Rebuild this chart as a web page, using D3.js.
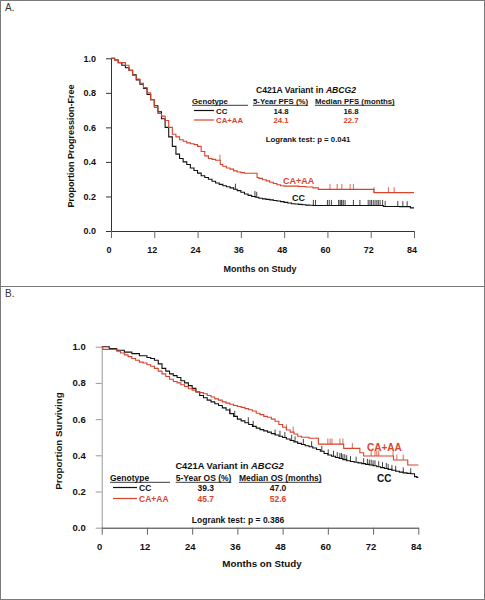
<!DOCTYPE html>
<html><head><meta charset="utf-8">
<script src="https://cdn.jsdelivr.net/npm/d3@7"></script>
<style>
body{margin:0;background:#fff;}
svg{display:block;font-family:"Liberation Sans",Arial,sans-serif;}
</style></head>
<body><svg id="c" width="485" height="600"></svg>
<script>
// ---------- DATA ----------
const monthTicks = [0,12,24,36,48,60,72,84];
const propTicks = [0,0.2,0.4,0.6,0.8,1.0];
const groups = ["CC","CA+AA"];

// Panel A: progression-free survival (Kaplan-Meier steps [month, proportion])
const pfsCC = [[0,1],[1,0.99],[2,0.975],[3,0.96],[4,0.945],[5,0.93],[6,0.905],[7,0.875],[8,0.85],[9,0.825],[10,0.79],[11,0.76],[12,0.725],[13,0.69],[14,0.65],[15,0.6],[16,0.545],[17,0.49],[18,0.445],[19,0.42],[20,0.4],[21,0.385],[22,0.365],[23,0.35],[24,0.335],[25,0.32],[26,0.31],[27,0.3],[28,0.288],[29,0.278],[30,0.27],[31,0.262],[32,0.256],[33,0.25],[34,0.242],[35,0.234],[36,0.224],[37,0.214],[38,0.206],[39,0.2],[40,0.195],[41,0.19],[42,0.186],[43,0.183],[44,0.18],[45,0.177],[46,0.174],[47,0.17],[48,0.166],[49,0.162],[50,0.158],[51,0.156],[52,0.154],[53,0.152],[54,0.15],[55,0.149],[56,0.148],[75.5,0.142],[80,0.141],[83,0.134]];
const pfsVar = [[0,1],[1,0.99],[2,0.975],[4,0.96],[5,0.93],[6,0.9],[7,0.88],[8,0.855],[9,0.83],[10,0.8],[11,0.76],[12,0.715],[13,0.68],[14,0.665],[15,0.64],[16,0.6],[17,0.56],[18,0.545],[19,0.528],[20,0.52],[21,0.51],[22,0.505],[23,0.5],[24,0.49],[25,0.46],[26,0.435],[27,0.42],[28,0.415],[29,0.41],[30.3,0.385],[31,0.375],[32,0.365],[33,0.358],[34,0.348],[35,0.342],[36,0.338],[37,0.334],[40.5,0.31],[41,0.305],[42,0.297],[43,0.29],[44,0.282],[45,0.275],[46,0.268],[47,0.262],[48,0.26],[52,0.258],[54,0.255],[56,0.25],[57.5,0.241],[72.9,0.222]];
const pfsCensorCC = [34.5,39.9,40.4,56.1,56.7,60.0,60.5,61.1,63.1,63.5,63.8,64.0,64.4,64.9,67.2,69.0,71.3,71.8,72.2,72.7,73.2,73.7,74.1,74.6,75.3,76.0,79.5,80.9,82.1];
const pfsCensorVar = [30.2,60.7,62.7,64.0,66.3,67.2,72.9,76.9,78.5];
const pfsTable = {title:"C421A Variant in ", gene:"ABCG2", col1:"5-Year PFS (%)", col2:"Median PFS (months)", fiveYear:["14.8","24.1"], median:["16.8","22.7"], p:"Logrank test: p = 0.041"};

// Panel B: overall survival
const osCC = [[0,1],[2,0.99],[4,0.98],[6,0.97],[8,0.962],[10,0.95],[12,0.94],[13,0.935],[14,0.925],[15,0.905],[16,0.88],[17,0.865],[18,0.85],[19,0.84],[20,0.83],[21,0.812],[22,0.8],[23,0.785],[24,0.77],[25,0.75],[26,0.73],[27,0.718],[28,0.705],[29,0.695],[30,0.685],[31,0.675],[32,0.662],[33,0.65],[34,0.63],[35,0.615],[36,0.6],[37,0.59],[38,0.58],[39,0.57],[40,0.56],[41,0.55],[42,0.542],[43,0.535],[44,0.528],[45,0.52],[46,0.512],[47,0.505],[48,0.498],[49,0.49],[50,0.482],[51,0.474],[52,0.466],[53,0.46],[54,0.453],[55,0.447],[56,0.44],[57,0.432],[58,0.422],[59,0.41],[60,0.402],[61,0.395],[62,0.388],[63,0.382],[64,0.376],[65,0.37],[66,0.366],[67,0.362],[68,0.358],[69,0.354],[70,0.35],[71,0.346],[72,0.342],[73,0.337],[74,0.332],[75,0.327],[76,0.322],[77,0.317],[78,0.312],[79,0.307],[80,0.303],[81,0.3],[82,0.298],[83,0.282],[83.6,0.278]];
const osVar = [[0,1],[0.3,0.985],[4,0.975],[5,0.965],[6,0.955],[7,0.945],[8,0.935],[9,0.925],[10,0.915],[11,0.91],[12,0.9],[13,0.892],[14,0.88],[15,0.865],[16,0.85],[17,0.835],[18,0.82],[19,0.808],[20,0.8],[21,0.79],[22,0.78],[23,0.768],[24,0.76],[25,0.752],[26,0.746],[27,0.74],[28,0.73],[29,0.722],[30,0.712],[31,0.705],[32,0.695],[33,0.688],[34,0.682],[35,0.675],[36,0.67],[37,0.665],[38,0.658],[39,0.652],[40,0.645],[41,0.632],[42,0.625],[43,0.615],[44,0.61],[45,0.6],[46,0.588],[47,0.57],[48,0.555],[49,0.54],[50,0.528],[51,0.518],[52,0.505],[53,0.5],[55,0.494],[57.5,0.462],[64.2,0.438],[68.5,0.414],[69.5,0.396],[77.4,0.374],[81.2,0.346]];
const osCensorCC = [34.0,35.3,38.9,40.2,46.0,47.3,48.6,50.4,51.3,53.5,55.7,58.4,60.1,61.5,62.5,63.2,63.6,64.0,64.5,65.0,66.0,67.5,69.5,70.5,71.0,71.5,72.0,72.5,73.5,74.5,75.5,76.0,77.0,78.0,80.0,82.0];
const osCensorVar = [49.0,50.8,60.0,60.6,61.1,63.2,64.0,66.5,71.5,72.5,73.0,73.5,77.3,78.3,80.0];
const osTable = {title:"C421A Variant in ", gene:"ABCG2", col1:"5-Year OS (%)", col2:"Median OS (months)", fiveYear:["39.3","45.7"], median:["47.0","52.6"], p:"Logrank test: p = 0.386"};

// ---------- DRAW ----------
const RED = "#d8432b", BLACK = "#111";
const svg = d3.select("#c");

// frame
svg.append("rect").attr("x",0.5).attr("y",0.5).attr("width",484).attr("height",599)
  .attr("fill","none").attr("stroke","#7a7a7a");
svg.append("line").attr("x1",0).attr("x2",485).attr("y1",286.5).attr("y2",286.5).attr("stroke","#7a7a7a");
svg.append("text").attr("x",5).attr("y",11).attr("font-size",10).attr("fill","#333").text("A.");
svg.append("text").attr("x",5).attr("y",297).attr("font-size",10).attr("fill","#333").text("B.");

function survAt(data,t){let s=data[0][1];for(const d of data){if(d[0]<=t)s=d[1];}return s;}

function panel(cfg){
  const x = d3.scaleLinear().domain([0,84]).range(cfg.xr);
  const y = d3.scaleLinear().domain([0,1]).range(cfg.yr);
  const g = svg.append("g");
  const ya = g.append("g").attr("transform",`translate(${cfg.xr[0]},0)`)
    .call(d3.axisLeft(y).tickValues(propTicks).tickFormat(d3.format(".1f")).tickSize(cfg.yTick).tickSizeOuter(0).tickPadding(10));
  ya.select(".domain").attr("stroke",cfg.yAxisColor);
  ya.selectAll(".tick line").attr("stroke",cfg.yAxisColor);
  ya.selectAll("text").attr("font-size",cfg.fs.tick).attr("font-weight","bold").attr("fill","#111").attr("font-family","Liberation Sans, Arial");
  const xa = g.append("g").attr("transform",`translate(0,${cfg.yr[0]})`)
    .call(d3.axisBottom(x).tickValues(monthTicks).tickSize(7).tickSizeOuter(0).tickPadding(9));
  xa.select(".domain").attr("stroke","#333");
  xa.selectAll(".tick line").attr("stroke","#666");
  xa.selectAll("text").attr("font-size",cfg.fs.tick).attr("font-weight","bold").attr("fill","#111").attr("dx",-2.5).attr("font-family","Liberation Sans, Arial");

  g.append("text").attr("x",cfg.xTitle[0]).attr("y",cfg.xTitle[1]).attr("text-anchor","middle")
    .attr("font-size",cfg.fs.title).attr("font-weight","bold").attr("fill","#111").text("Months on Study");
  g.append("text").attr("transform",`translate(${cfg.yTitle[0]},${cfg.yTitle[1]}) rotate(-90)`).attr("text-anchor","middle")
    .attr("dy","0.35em").attr("font-size",cfg.fs.title).attr("font-weight","bold").attr("fill","#111").text(cfg.yLabel);

  const line = d3.line().x(d=>x(d[0])).y(d=>y(d[1])).curve(d3.curveStepAfter);
  cfg.series.forEach(s=>{
    const pts = s.data.concat([[84, s.data[s.data.length-1][1]]]);
    g.append("path").datum(pts).attr("d",line).attr("fill","none").attr("stroke",s.color).attr("stroke-width",1.1);
    g.selectAll(null).data(s.censor).enter().append("line")
      .attr("x1",d=>x(d)).attr("x2",d=>x(d))
      .attr("y1",d=>y(survAt(s.data,d))-5.5).attr("y2",d=>y(survAt(s.data,d)))
      .attr("stroke",s.color).attr("stroke-width",0.8);
  });
  // curve labels
  cfg.curveLabels.forEach(c=>{
    g.append("text").attr("x",c.x).attr("y",c.y).attr("font-size",cfg.fs.curve).attr("font-weight","bold")
      .attr("fill",c.color).text(c.text);
  });
  // legend table
  const L = cfg.leg, T = cfg.table, fsL = cfg.fs.leg;
  const tt = g.append("text").attr("x",L.titleX).attr("y",L.titleY).attr("text-anchor","middle")
    .attr("font-size",cfg.fs.legTitle).attr("font-weight","bold").attr("fill","#111");
  tt.append("tspan").text(T.title);
  tt.append("tspan").attr("font-style","italic").text(T.gene);
  const hdr = [["Genotype",L.genX,"start",L.genUl],[T.col1,L.c1X,"start",null],[T.col2,L.c2X,"start",null]];
  hdr.forEach(h=>{
    const t = g.append("text").attr("x",h[1]).attr("y",L.hdrY).attr("text-anchor",h[2])
      .attr("font-size",fsL).attr("font-weight","bold").attr("fill","#111").text(h[0]);
    const w = h[3] ? h[3] : t.node().getComputedTextLength();
    g.append("line").attr("x1",h[1]).attr("x2",h[1]+w).attr("y1",L.hdrY+1.8).attr("y2",L.hdrY+1.8)
      .attr("stroke","#222").attr("stroke-width",0.9);
  });
  groups.forEach((gr,i)=>{
    const col = i===0?BLACK:RED;
    const yy = L.rowY[i];
    g.append("line").attr("x1",L.swX[0]).attr("x2",L.swX[1]).attr("y1",yy-3).attr("y2",yy-3).attr("stroke",col).attr("stroke-width",1.2);
    g.append("text").attr("x",L.swX[1]+2).attr("y",yy).attr("font-size",fsL).attr("font-weight","bold").attr("fill",col).text(gr);
    g.append("text").attr("x",L.v1X).attr("y",yy).attr("text-anchor","middle").attr("font-size",fsL).attr("font-weight","bold").attr("fill",col).text(T.fiveYear[i]);
    g.append("text").attr("x",L.v2X).attr("y",yy).attr("text-anchor","middle").attr("font-size",fsL).attr("font-weight","bold").attr("fill",col).text(T.median[i]);
  });
  g.append("text").attr("x",L.pX).attr("y",L.pY).attr("text-anchor","middle").attr("font-size",fsL).attr("font-weight","bold").attr("fill","#111").text(T.p);
}

panel({
  xr:[111,414], yr:[231,58.3], yTick:5, yAxisColor:"#333",
  fs:{tick:9,title:9,curve:9,leg:7.8,legTitle:8.6},
  xTitle:[260,272], yTitle:[71,146], yLabel:"Proportion Progression-Free",
  series:[{data:pfsCC,censor:pfsCensorCC,color:BLACK},{data:pfsVar,censor:pfsCensorVar,color:RED}],
  curveLabels:[{x:283,y:183.5,text:"CA+AA",color:RED},{x:292,y:200.5,text:"CC",color:BLACK}],
  table:pfsTable,
  leg:{titleX:306,titleY:93,genX:192,genUl:56,hdrY:103.5,c1X:253,c2X:315,rowY:[113.5,123],swX:[194,214],v1X:281,v2X:351,pX:308,pY:142}
});

panel({
  xr:[101.7,418.3], yr:[527.7,346.7], yTick:6, yAxisColor:"#999",
  fs:{tick:9.5,title:9.8,curve:10,leg:8.5,legTitle:9.3},
  xTitle:[262,566.5], yTitle:[59,441], yLabel:"Proportion Surviving",
  series:[{data:osCC,censor:osCensorCC,color:BLACK},{data:osVar,censor:osCensorVar,color:RED}],
  curveLabels:[{x:367,y:451,text:"CA+AA",color:RED},{x:377,y:481.5,text:"CC",color:BLACK}],
  table:osTable,
  leg:{titleX:229.5,titleY:468.5,genX:110,genUl:60,hdrY:480.5,c1X:175.7,c2X:239,rowY:[490.5,501.5],swX:[113,137],v1X:205.7,v2X:278,pX:238,pY:522.5}
});
</script></body></html>
